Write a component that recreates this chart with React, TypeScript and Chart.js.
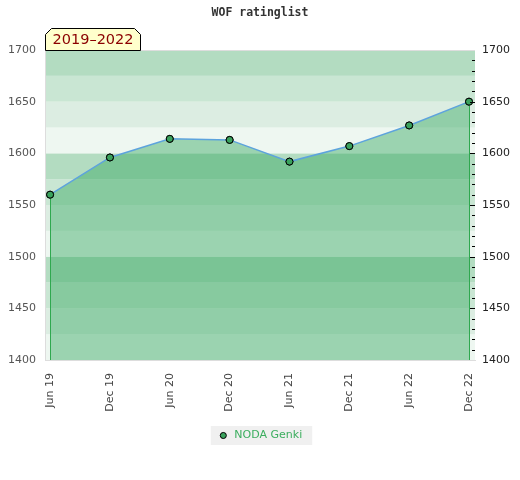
import React, { useEffect, useRef } from "react";
import { Chart, registerables } from "chart.js";

Chart.register(...registerables);

const periodLabels: string[] = ["Jun 19", "Dec 19", "Jun 20", "Dec 20", "Jun 21", "Dec 21", "Jun 22", "Dec 22"];
const ratingValues: number[] = [1560, 1596, 1614, 1613, 1592, 1607, 1627, 1650];
const seriesName = "NODA Genki";
const chartTitle = "WOF ratinglist";
const rangeLabel = "2019–2022";
const yMin = 1400;
const yMax = 1700;
const yStep = 50;
const bandStep = 25;
const minorStep = 10;

const bandColors = ["#eef7f1", "#dcede2", "#c9e6d3", "#b3dcc1"];

const decorPlugin = {
  id: "decor",
  beforeDraw(chart: any) {
    const { ctx, chartArea } = chart;
    const ys = chart.scales.y;
    ctx.save();
    // legend background
    const lg = chart.legend;
    if (lg && lg.legendHitBoxes && lg.legendHitBoxes.length) {
      const hb = lg.legendHitBoxes[0];
      const last = lg.legendHitBoxes[lg.legendHitBoxes.length - 1];
      const cy = hb.top + hb.height / 2;
      ctx.fillStyle = "#f0f0f0";
      ctx.fillRect(hb.left - 7, cy - 9.5, last.left + last.width - hb.left + 17, 19);
    }
    // horizontal bands
    let i = 0;
    for (let v = yMin; v < yMax; v += bandStep, i++) {
      const yTop = ys.getPixelForValue(v + bandStep);
      const yBot = ys.getPixelForValue(v);
      ctx.fillStyle = bandColors[i % bandColors.length];
      ctx.fillRect(chartArea.left, yTop, chartArea.right - chartArea.left, yBot - yTop);
    }
    // top border
    ctx.strokeStyle = "#dddddd";
    ctx.lineWidth = 1;
    ctx.beginPath();
    ctx.moveTo(chartArea.left, Math.round(chartArea.top) + 0.5);
    ctx.lineTo(chartArea.right, Math.round(chartArea.top) + 0.5);
    ctx.stroke();
    ctx.restore();
  },
  afterDatasetsDraw(chart: any) {
    const { ctx, chartArea } = chart;
    const meta = chart.getDatasetMeta(0);
    const pts = meta.data;
    if (!pts || !pts.length) return;
    ctx.save();
    ctx.strokeStyle = "#2fa84f";
    ctx.lineWidth = 1;
    [pts[0], pts[pts.length - 1]].forEach((p: any) => {
      const x = Math.round(p.x) + 0.5;
      ctx.beginPath();
      ctx.moveTo(x, p.y + 4);
      ctx.lineTo(x, chartArea.bottom);
      ctx.stroke();
    });
    ctx.restore();
    pts.forEach((p: any) => p.draw(ctx, chartArea));
  },
  afterDraw(chart: any) {
    const { ctx, chartArea } = chart;
    const ys = chart.scales.y;
    ctx.save();
    // minor ticks on the right edge
    ctx.strokeStyle = "#000000";
    ctx.lineWidth = 1;
    for (let v = yMin + minorStep; v < yMax; v += minorStep) {
      const y = Math.round(ys.getPixelForValue(v)) + 0.5;
      const len = v % yStep === 0 ? 5 : 3;
      ctx.beginPath();
      ctx.moveTo(chartArea.right - len, y);
      ctx.lineTo(chartArea.right, y);
      ctx.stroke();
    }
    // range label box
    const left = Math.round(chartArea.left) + 0.5;
    const bottom = Math.round(chartArea.top) + 0.5;
    const w = 95;
    const h = 22;
    const cut = 6;
    ctx.beginPath();
    ctx.moveTo(left, bottom);
    ctx.lineTo(left, bottom - h + cut);
    ctx.lineTo(left + cut, bottom - h);
    ctx.lineTo(left + w - cut, bottom - h);
    ctx.lineTo(left + w, bottom - h + cut);
    ctx.lineTo(left + w, bottom);
    ctx.closePath();
    ctx.fillStyle = "#ffffcc";
    ctx.fill();
    ctx.strokeStyle = "#000000";
    ctx.stroke();
    ctx.fillStyle = "#8b0000";
    ctx.font = "14.5px 'DejaVu Sans'";
    ctx.textAlign = "center";
    ctx.textBaseline = "middle";
    ctx.fillText(rangeLabel, left + w / 2, bottom - h / 2 + 0.5);
    ctx.restore();
  },
};

const yTickLabel = (v: any) => String(v);

export default function App() {
  const canvasRef = useRef<HTMLCanvasElement | null>(null);

  useEffect(() => {
    const canvas = canvasRef.current;
    if (!canvas) return;
    const chart = new Chart(canvas, {
      type: "line",
      data: {
        datasets: [
          {
            label: seriesName,
            data: ratingValues.map((v, i) => ({ x: i, y: v })),
            borderColor: "#5da3dd",
            borderWidth: 1.5,
            backgroundColor: "rgba(50,166,93,0.44)",
            fill: "start",
            tension: 0,
            pointRadius: 3.5,
            pointHoverRadius: 3.5,
            pointBackgroundColor: "#3aa25d",
            pointBorderColor: "#000000",
            pointBorderWidth: 1,
          },
        ],
      },
      options: {
        animation: false,
        responsive: false,
        devicePixelRatio: 1,
        layout: { padding: { left: 0, right: 0, top: 0, bottom: 29 } },
        scales: {
          x: {
            type: "linear",
            min: -0.085,
            max: periodLabels.length - 1 + 0.1,
            afterBuildTicks: (s: any) => {
              s.ticks = periodLabels.map((_, i) => ({ value: i }));
            },
            afterFit: (s: any) => {
              s.height = 60;
            },
            ticks: {
              autoSkip: false,
              minRotation: 90,
              maxRotation: 90,
              padding: 13,
              color: "#444444",
              font: { family: "'DejaVu Sans'", size: 11 },
              callback: (v: any) => periodLabels[v as number] ?? null,
            },
            grid: { display: false, drawTicks: false },
            border: { display: true, color: "#dddddd" },
          },
          y: {
            position: "left",
            min: yMin,
            max: yMax,
            afterFit: (s: any) => {
              s.width = 45;
            },
            ticks: {
              stepSize: yStep,
              padding: 9,
              color: "#555555",
              font: { family: "'DejaVu Sans'", size: 11 },
              callback: yTickLabel,
            },
            grid: { display: false, drawTicks: false },
            border: { display: true, color: "#dddddd" },
          },
          y2: {
            position: "right",
            min: yMin,
            max: yMax,
            afterFit: (s: any) => {
              s.width = 45;
            },
            ticks: {
              stepSize: yStep,
              padding: 7,
              color: "#222222",
              font: { family: "'DejaVu Sans'", size: 11 },
              callback: yTickLabel,
            },
            grid: { display: false, drawTicks: false },
            border: { display: false },
          },
        },
        plugins: {
          title: {
            display: true,
            text: chartTitle,
            color: "#333333",
            font: { family: "'DejaVu Sans Mono'", size: 11.5, weight: "bold" },
            padding: { top: 6, bottom: 30.2 },
          },
          legend: {
            display: true,
            position: "bottom",
            labels: {
              usePointStyle: true,
              pointStyle: "circle",
              boxWidth: 11,
              boxHeight: 4.3,
              padding: 10,
              color: "#3cae5f",
              font: { family: "'DejaVu Sans'", size: 11 },
            },
          },
          tooltip: { enabled: false },
        },
      },
      plugins: [decorPlugin],
    } as any);
    return () => chart.destroy();
  }, []);

  return (
    <div style={{ position: "absolute", left: 0, top: 0, width: 520, height: 480, background: "#ffffff" }}>
      <canvas ref={canvasRef} width={520} height={480} />
    </div>
  );
}
